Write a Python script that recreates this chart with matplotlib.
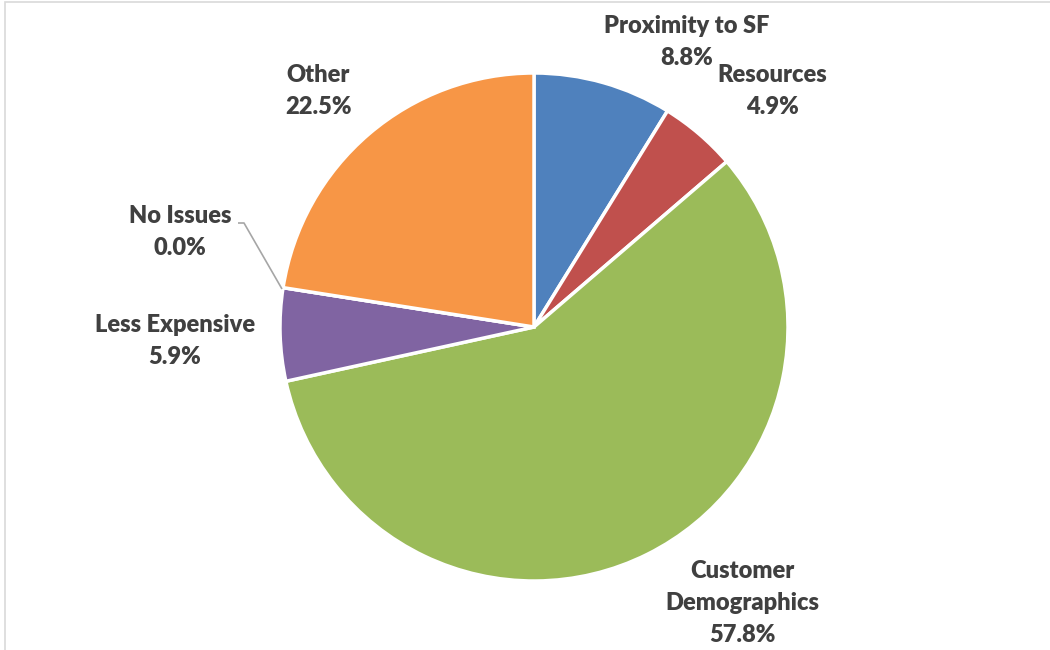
import matplotlib
matplotlib.use("Agg")
import matplotlib.pyplot as plt
from matplotlib.patches import Rectangle

# Survey categories, share of responses (%), and Office-style slice colours
categories = ["Proximity to SF", "Resources", "Customer\nDemographics",
              "Less Expensive", "No Issues", "Other"]
shares = [8.8, 4.9, 57.8, 5.9, 0.0, 22.5]
colors = ["#4F81BD", "#C0504D", "#9BBB59", "#8064A2", "#4BACC6", "#F79646"]

# Label anchor points in pixel space (x from left, y from top)
label_xy = [(687, 42), (772, 91), (742, 603), (175, 341), (180, 232), (318, 91)]

W, H = 1050, 650
fig = plt.figure(figsize=(W / 100, H / 100), dpi=100)
ax = fig.add_axes([0, 0, 1, 1])
ax.set_xlim(0, W)
ax.set_ylim(0, H)
ax.set_aspect("equal")
ax.axis("off")

plt.rcParams["font.family"] = ["Lato", "DejaVu Sans"]

cx, cy, r = 534, H - 327, 254
ax.pie(shares, colors=colors, startangle=90, counterclock=False,
       center=(cx, cy), radius=r, normalize=True,
       wedgeprops=dict(edgecolor="white", linewidth=2.5))
ax.set_xlim(0, W)
ax.set_ylim(0, H)

for name, val, (px, py) in zip(categories, shares, label_xy):
    ax.text(px, H - py, f"{name}\n{val:.1f}%", ha="center", va="center",
            fontsize=17, fontweight="heavy", color="#404040", linespacing=1.55)

# Leader line for the zero-size slice
ax.plot([238, 244, 282], [H - 223, H - 223, H - 289], color="#A6A6A6",
        lw=1.2, solid_capstyle="butt")

# Chart-area frame
ax.add_patch(Rectangle((5, -10), W + 20, H - 2 + 10, fill=False,
                       edgecolor="#D9D9D9", lw=1.2, clip_on=False))

fig.savefig("out.png", dpi=100)
